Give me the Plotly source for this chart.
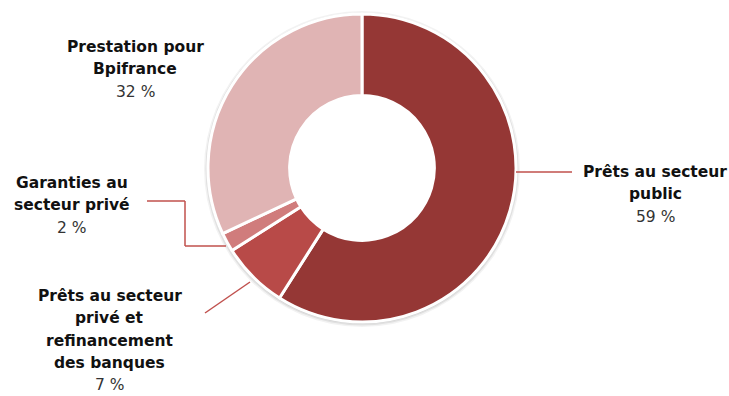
import plotly.graph_objects as go

categories = ["Prêts au secteur public",
              "Prêts au secteur privé et refinancement des banques",
              "Garanties au secteur privé",
              "Prestation pour Bpifrance"]
values = [59, 7, 2, 32]
label_lines = [["Prêts au secteur", "public"],
               ["Prêts au secteur", "privé et", "refinancement", "des banques"],
               ["Garanties au", "secteur privé"],
               ["Prestation pour", "Bpifrance"]]
colors = ["#953735", "#B84A48", "#D07C7C", "#E0B4B4"]

W, H = 729, 396
cx, cy, R = 362, 168, 154

def dom(r, dx=0, dy=0):
    return dict(x=[(cx + dx - r) / W, (cx + dx + r) / W],
                y=[(H - cy - dy - r) / H, (H - cy - dy + r) / H])

fig = go.Figure()
# soft shadow behind the ring
for r, a in [(R + 4, 0.05), (R + 2.5, 0.07), (R + 1, 0.08)]:
    fig.add_trace(go.Pie(values=[1], sort=False, hole=0.9, marker=dict(colors=[f"rgba(0,0,0,{a})"], line=dict(width=0)),
                         textinfo="none", hoverinfo="skip", showlegend=False, domain=dom(r, 0, 1)))
fig.add_trace(go.Pie(
    labels=categories, values=values, sort=False, direction="clockwise",
    rotation=0, hole=0.47,
    marker=dict(colors=colors, line=dict(color="white", width=3)),
    textinfo="none", hoverinfo="label+percent", showlegend=False,
    domain=dom(R),
))

# label anchor (center x, first line y) in pixels
label_pos = [(655, 172), (110, 296), (72, 183), (135, 47)]
line_h = 22.3
anns = []
for lines, v, (lx, ly) in zip(label_lines, values, label_pos):
    allines = [("<b>" + t + "</b>", "#111111") for t in lines] + [(f"{v} %", "#333333")]
    for i, (t, c) in enumerate(allines):
        anns.append(dict(text=t, x=lx / W, y=1 - (ly + i * line_h) / H, xref="paper", yref="paper",
                         showarrow=False, xanchor="center", yanchor="middle",
                         font=dict(family="DejaVu Sans", size=15.5, color=c)))

lc = "#C0504D"
def px(x, y):
    return x / W, 1 - y / H

shapes = []
def seg(x0, y0, x1, y1):
    a, b = px(x0, y0); c, d = px(x1, y1)
    shapes.append(dict(type="line", xref="paper", yref="paper", x0=a, y0=b, x1=c, y1=d,
                       line=dict(color=lc, width=1.5)))
seg(516, 172, 572, 172)
seg(147, 201, 185, 201)
seg(185, 201, 185, 246)
seg(185, 246, 226, 246)
seg(250, 282, 205, 313)

fig.update_layout(width=W, height=H, margin=dict(l=0, r=0, t=0, b=0),
                  paper_bgcolor="white", plot_bgcolor="white",
                  annotations=anns, shapes=shapes)
fig.write_html("out.html")
